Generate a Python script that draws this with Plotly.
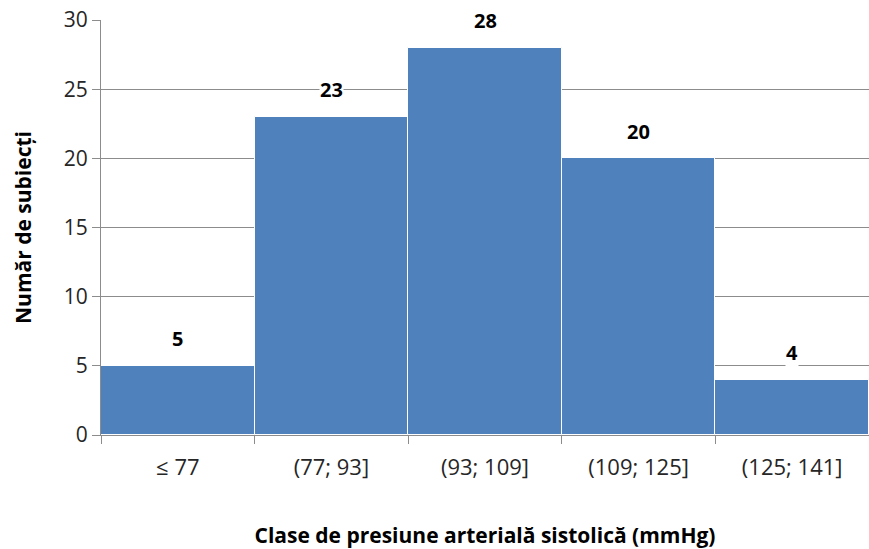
import plotly.graph_objects as go

# histogram classes and counts
classes = ["≤ 77", "(77; 93]", "(93; 109]", "(109; 125]", "(125; 141]"]
counts = [5, 23, 28, 20, 4]

FONT = "Open Sans"
GRID = "#8c8c8c"

fig = go.Figure(
    go.Bar(
        x=classes,
        y=counts,
        marker=dict(color="#4f81bd", line=dict(color="white", width=1)),
        hoverinfo="x+y",
    )
)

# bold value labels above each bar (white box hides the gridline behind)
for c, v in zip(classes, counts):
    fig.add_annotation(
        x=c, y=v, text=f"<b>{v}</b>", showarrow=False,
        yshift=27, bgcolor="white", borderpad=0,
        font=dict(family=FONT, size=20, color="black"),
    )

fig.update_layout(
    width=869, height=549,
    margin=dict(l=101, r=0, t=20, b=114),
    plot_bgcolor="white", paper_bgcolor="white",
    bargap=0,
    showlegend=False,
    font=dict(family=FONT, color="#262626"),
)
fig.update_xaxes(
    automargin=False,
    tickson="boundaries", ticks="outside", ticklen=8, tickcolor=GRID,
    showline=True, linecolor=GRID, linewidth=1,
    tickfont=dict(size=22, color="#262626"),
    ticklabelstandoff=13,
    title=dict(text="<b>Clase de presiune arterială sistolică (mmHg)</b>",
               font=dict(size=21, color="black"), standoff=50),
)
fig.update_yaxes(
    automargin=False,
    range=[0, 30], dtick=5, ticks="outside", ticklen=8, tickcolor=GRID,
    showgrid=True, gridcolor=GRID, gridwidth=1,
    showline=True, linecolor=GRID, linewidth=1,
    zeroline=False,
    tickfont=dict(size=21, color="#262626"),
    title=dict(text="<b>Număr de subiecți</b>",
               font=dict(size=21, color="black"), standoff=26),
)

fig.write_html("out.html", config={"displayModeBar": False},
               post_script="document.body.style.margin='0';")
